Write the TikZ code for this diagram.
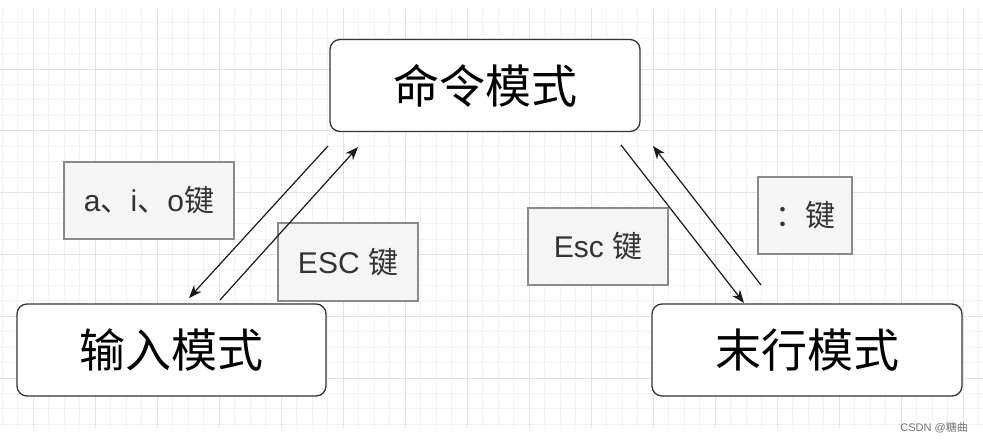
\documentclass[tikz,border=0pt]{standalone}
\usepackage{fontspec}
\newfontfamily\cjk{Noto Sans CJK SC}
\newfontfamily\lat{Liberation Sans}
\usetikzlibrary{arrows.meta}
\definecolor{gmaj}{HTML}{E3E3E3}
\definecolor{gmin}{HTML}{F3F3F3}
\definecolor{keyfill}{HTML}{F5F5F5}
\definecolor{keyline}{HTML}{8A8A8A}
\definecolor{keytext}{HTML}{333333}
\definecolor{boxline}{HTML}{333333}
\begin{document}
\begin{tikzpicture}[x=1pt,y=-1pt,
  modebox/.style={draw=boxline, line width=1.3pt, rounded corners=10pt, fill=white,
    minimum width=310pt, minimum height=92pt, inner sep=0pt,
    font=\cjk\fontsize{46}{50}\selectfont},
  keybox/.style={draw=keyline, line width=1.2pt, fill=keyfill, text=keytext,
    minimum height=77pt, inner sep=0pt, font=\cjk\fontsize{30}{32}\selectfont},
  conn/.style={draw=black!90, line width=1.2pt, -{Stealth[length=13pt,width=10pt,inset=4pt]}},
  gridmin/.style={draw=gmin, line width=0.9pt},
  gridmaj/.style={draw=gmaj, line width=0.9pt}]
\useasboundingbox (0,0) rectangle (983,444);
\fill[white] (0,0) rectangle (983,444);
\begin{scope}
  \clip (0,9) rectangle (983,428);
  \foreach \i in {-3,...,63} \draw[gridmin] ({33+15.5*\i},9) -- ({33+15.5*\i},428);
  \foreach \i in {-4,...,24} \draw[gridmin] (0,{69+15.45*\i}) -- (983,{69+15.45*\i});
  \foreach \i in {-1,...,16} \draw[gridmaj] ({33+62*\i},9) -- ({33+62*\i},428);
  \foreach \i in {-1,...,6} \draw[gridmaj] (0,{69+61.8*\i}) -- (983,{69+61.8*\i});
\end{scope}

\node[modebox] (cmd) at (485,85.5) {命令模式};
\node[modebox, minimum width=309pt] (ins) at (171.5,350) {输入模式};
\node[modebox] (last) at (807,350) {末行模式};

\node[keybox, minimum width=170pt] (k1) at (149,200.5) {{\lat a}、{\lat i}、{\lat o}键};
\node[keybox, minimum width=140pt, minimum height=78pt] (k2) at (348,262) {{\lat ESC }键};
\node[keybox, minimum width=140pt] (k3) at (598,246.5) {{\lat Esc }键};
\node[keybox, minimum width=94pt] (k4) at (805,215.5) {：键};

\coordinate (c1s) at (328,146);
\coordinate (c1e) at (189,298);
\coordinate (c2s) at (220,300);
\coordinate (c2e) at (358,147);
\coordinate (c3s) at (621,145);
\coordinate (c3e) at (744,303);
\coordinate (c4s) at (761,285);
\coordinate (c4e) at (653,146);
\draw[conn] (c1s) -- (c1e);
\draw[conn] (c2s) -- (c2e);
\draw[conn] (c3s) -- (c3e);
\draw[conn] (c4s) -- (c4e);

\node[text=black!55, font=\cjk\fontsize{11}{12}\selectfont, anchor=east, inner sep=0pt] (wm) at (968,428) {{\lat CSDN @}糖曲};
\end{tikzpicture}
\end{document}
